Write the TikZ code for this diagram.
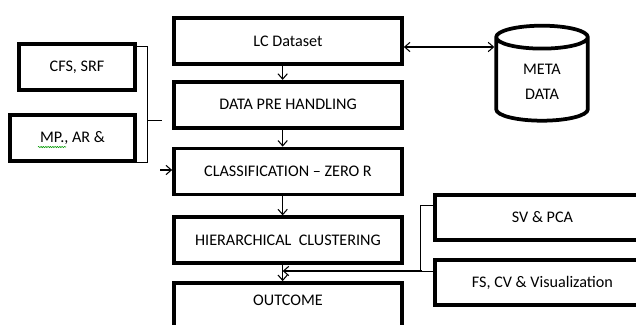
\documentclass[tikz,border=0pt]{standalone}
\usepackage{fontspec}
\setmainfont{Carlito}
\usetikzlibrary{shapes.geometric, arrows.meta, positioning, calc, decorations.pathmorphing}

\begin{document}
\begin{tikzpicture}[
    x=0.03cm, y=-0.03cm,
    stage/.style={rectangle, draw=black, line width=3.2pt, minimum width=6.84cm, minimum height=1.38cm, align=center, font=\fontsize{13.8}{16}\selectfont},
    side/.style={rectangle, draw=black, line width=3.2pt, minimum height=1.38cm, align=center, font=\fontsize{13.8}{16}\selectfont},
    store/.style={cylinder, shape border rotate=90, draw=black, line width=3.2pt, aspect=0.25, text width=2.55cm, inner sep=0.1cm, minimum height=2.85cm, align=center, font=\fontsize{13.8}{21}\selectfont},
    arrow/.style={-{Straight Barb[length=1.6mm, width=2.8mm]}, line width=0.9pt},
    link/.style={line width=0.8pt},
    node distance=0.5cm
]
\clip (0,0) rectangle (636,324);

% main column
\node[stage] (lc) at (288,41) {LC Dataset};
\node[stage, below=0.42cm of lc] (prep) {DATA PRE HANDLING};
\node[stage, below=0.51cm of prep] (cls) {CLASSIFICATION -- ZERO R};
\node[stage, below=0.57cm of cls] (hc) {HIERARCHICAL\ \ CLUSTERING};
\node[stage, below=0.48cm of hc, text depth=0.35cm] (out) {OUTCOME};

% left inputs
\node[side, minimum width=3.48cm] (cfs) at (77,67) {CFS, SRF};
\node[side, minimum width=3.75cm] (mp) at (72.5,138) {MP., AR \&};
\draw[green!60!black, line width=0.5pt, decorate, decoration={snake, amplitude=0.5pt, segment length=2pt}] (38,147) -- (66,147);

% meta data store
\node[store] (meta) at (542,82) {META\\DATA};

% right inputs
\node[side, minimum width=6.45cm, minimum height=1.35cm] (sv) at (542.5,217.5) {SV \& PCA};
\node[side, minimum width=6.45cm, minimum height=1.35cm] (fs) at (542.5,282.5) {FS, CV \& Visualization};

% Arrows
\draw[arrow] ([xshift=-0.16cm]lc.south) -- ([xshift=-0.16cm]prep.north);
\draw[arrow] ([xshift=-0.16cm]prep.south) -- ([xshift=-0.16cm]cls.north);
\draw[arrow] ([xshift=-0.16cm]cls.south) -- ([xshift=-0.16cm]hc.north);
\draw[arrow] ([xshift=-0.16cm]hc.south) -- ([xshift=-0.16cm]out.north);

\coordinate (mlink) at ([yshift=-0.18cm]lc.east);
\draw[arrow, {Straight Barb[length=1.6mm, width=2.8mm]}-{Straight Barb[length=1.6mm, width=2.8mm]}] (mlink) -- (mlink -| meta.west);

\draw[link] ([yshift=-0.12cm]cfs.north east) -- ++(11,0) |- (mp.south east);
\coordinate (brace) at (148,120);
\coordinate (tick) at (162,120);
\draw[link] (brace) -- (tick);
\coordinate (feed) at (160,170);
\draw[arrow] (feed) -- (feed -| cls.west);

\draw[link] ([yshift=-0.36cm]sv.north west) -- ++(-13,0) |- ([yshift=-0.39cm]fs.north west);
\coordinate (merge) at (422,271);
\draw[arrow] (merge) -- ([xshift=-0.16cm]merge -| hc.south);

\end{tikzpicture}
\end{document}
